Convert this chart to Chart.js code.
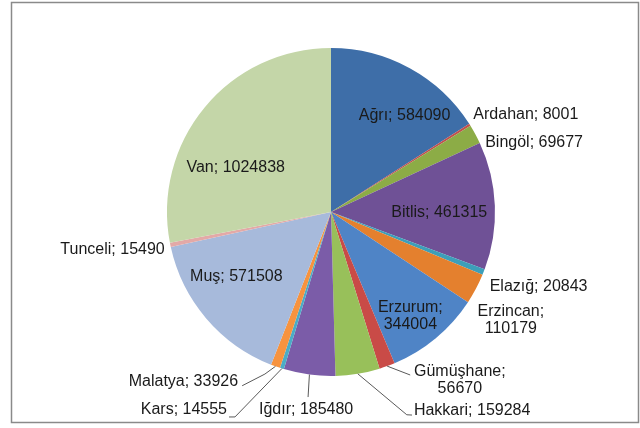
<!DOCTYPE html>
<html>
<head>
<meta charset="utf-8">
<script src="https://cdn.jsdelivr.net/npm/chart.js@4/dist/chart.umd.min.js"></script>
<style>
  html, body { margin: 0; padding: 0; background: #fff; }
  canvas { display: block; }
</style>
</head>
<body>
<canvas id="ilChart" width="640" height="428"></canvas>
<script>
// provinces and values (clockwise from 12 o'clock)
const provinces = ['Ağrı', 'Ardahan', 'Bingöl', 'Bitlis', 'Elazığ', 'Erzincan', 'Erzurum', 'Gümüşhane',
    'Hakkari', 'Iğdır', 'Kars', 'Malatya', 'Muş', 'Tunceli', 'Van'];
const values = [584090, 8001, 69677, 461315, 20843, 110179, 344004, 56670,
    159284, 185480, 14555, 33926, 571508, 15490, 1024838];
const colors = ['#3e6ea8', '#c0504d', '#8cac46', '#6f5196', '#3d9fb9', '#e4802e', '#4f84c6', '#c94b47',
    '#98c05a', '#7b5ca8', '#4bacc6', '#f7933f', '#a7badb', '#e3a9a7', '#c4d6a8'];

// label placement: [radius factor, angle shift in deg from slice middle, align]
const labelPos = [
    [0.74, 8.6, 'center'], [1.05, -2.1, 'left'], [1.03, 4.2, 'left'], [0.66, 2.7, 'center'],
    [1.07, 3.8, 'left'], [1.28, 3.1, 'center'], [0.80, 2.5, 'center'], [1.29, -17.5, 'center'],
    [1.31, -13.3, 'left'], [1.217, -0.4, 'center'], [1.364, 10.3, 'right'], [1.18, 8.9, 'right'],
    [0.70, 6.0, 'center'], [1.04, -1.3, 'right'], [0.64, -14.8, 'center']
];
// labels broken over two lines
const twoLine = { 'Erzincan': true, 'Erzurum': true, 'Gümüşhane': true };
// leader lines: polar points after the slice edge
const leaders = {
    'Gümüşhane': [[1.105, -5.9]],
    'Hakkari': [[1.32, -11.1], [1.333, -12.35]],
    'Iğdır': [[1.137, -0.5]],
    'Kars': [[1.38, 7.7], [1.396, 9.05]],
    'Malatya': [[1.067, 2.4], [1.19, 7.3]]
};

const labelPlugin = {
    id: 'labels',
    afterDatasetsDraw(chart) {
        const c = chart.ctx;
        const arcs = chart.getDatasetMeta(0).data;
        c.save();
        c.font = '16px "Liberation Sans", Arial, sans-serif';
        c.fillStyle = '#1a1a1a';
        c.textBaseline = 'middle';
        arcs.forEach(function(arc, i) {
            const mid = (arc.startAngle + arc.endAngle) / 2;
            const R = arc.outerRadius;
            const pt = function(f, da) {
                const a = mid + da * Math.PI / 180;
                return [arc.x + R * f * Math.cos(a), arc.y + R * f * Math.sin(a)];
            };
            const name = provinces[i];
            if (leaders[name]) {
                c.strokeStyle = '#595959';
                c.lineWidth = 1;
                c.beginPath();
                const p0 = pt(1.0, 0);
                c.moveTo(p0[0], p0[1]);
                leaders[name].forEach(function(p) {
                    const q = pt(p[0], p[1]);
                    c.lineTo(q[0], q[1]);
                });
                c.stroke();
            }
            const lp = labelPos[i];
            const pos = pt(lp[0], lp[1]);
            c.textAlign = lp[2];
            if (twoLine[name]) {
                c.fillText(name + ';', pos[0], pos[1] - 8.5);
                c.fillText(String(values[i]), pos[0], pos[1] + 8.5);
            } else {
                c.fillText(name + '; ' + values[i], pos[0], pos[1]);
            }
        });
        c.restore();
    }
};

const framePlugin = {
    id: 'frame',
    afterDraw(chart) {
        const c = chart.ctx;
        c.save();
        c.strokeStyle = '#8a8a8a';
        c.lineWidth = 1.5;
        c.strokeRect(11.5, 2.5, 627, 420);
        c.restore();
    }
};

const ctx = document.getElementById('ilChart').getContext('2d');
const ilChart = new Chart(ctx, {
    type: 'pie',
    data: {
        labels: provinces,
        datasets: [{
            data: values,
            backgroundColor: colors,
            borderWidth: 0
        }]
    },
    options: {
        responsive: false,
        animation: false,
        layout: {
            padding: { top: 48, bottom: 52, left: 167, right: 145 }
        },
        plugins: {
            legend: { display: false },
            tooltip: { enabled: false }
        }
    },
    plugins: [labelPlugin, framePlugin]
});
</script>
</body>
</html>
